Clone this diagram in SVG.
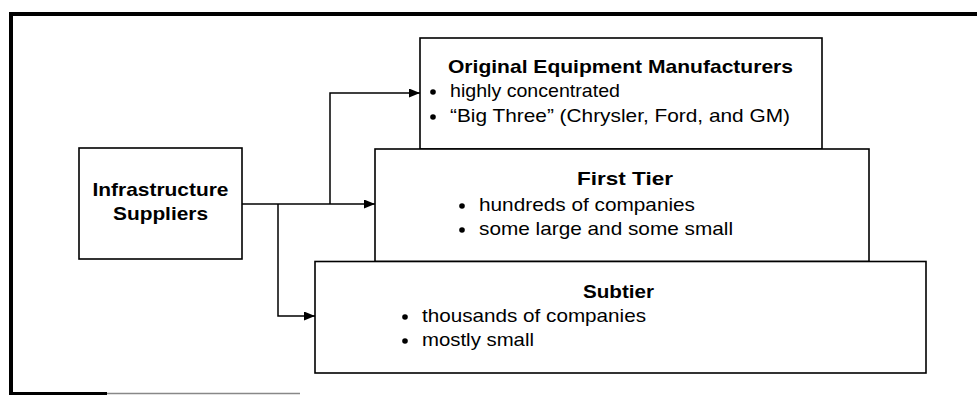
<svg xmlns="http://www.w3.org/2000/svg" width="977" height="396" viewBox="0 0 977 396">
<style>
.box{fill:#fff;stroke:#000;stroke-width:1.6}
.t{font-family:"Liberation Sans",Arial,sans-serif;font-size:19px;fill:#000}
.b{font-weight:bold}
.c{text-anchor:middle}
.conn{fill:none;stroke:#000;stroke-width:1.5}
.dot{fill:#000}
</style>
<defs>
<marker id="arr" markerUnits="userSpaceOnUse" markerWidth="11" markerHeight="9" refX="11" refY="4.5" orient="auto">
<path d="M0,0 L11,4.5 L0,9 z" fill="#000"/>
</marker>
</defs>
<g id="frame">
<line x1="9" y1="14" x2="977" y2="14" stroke="#000" stroke-width="4"/>
<line x1="11" y1="12" x2="11" y2="395" stroke="#000" stroke-width="4"/>
<line x1="9" y1="393.5" x2="107" y2="393.5" stroke="#000" stroke-width="3"/>
<line x1="107" y1="393.5" x2="300" y2="393.5" stroke="#888" stroke-width="1.5"/>
</g>
<g id="connectors">
<path class="conn" d="M242,204 H375" marker-end="url(#arr)"/>
<path class="conn" d="M330,204 V93 H420" marker-end="url(#arr)"/>
<path class="conn" d="M278,204 V316 H315" marker-end="url(#arr)"/>
</g>
<g id="infra">
<rect class="box" x="79" y="148" width="163" height="111"/>
<text class="t b c" x="160.5" y="196" textLength="136" lengthAdjust="spacingAndGlyphs">Infrastructure</text>
<text class="t b c" x="160.5" y="220" textLength="95" lengthAdjust="spacingAndGlyphs">Suppliers</text>
</g>
<g id="oem">
<rect class="box" x="420" y="38" width="402" height="111"/>
<text class="t b c" x="620.5" y="73" textLength="345" lengthAdjust="spacingAndGlyphs">Original Equipment Manufacturers</text>
<circle class="dot" cx="433" cy="92" r="2.8"/>
<text class="t" x="450" y="97" textLength="170" lengthAdjust="spacingAndGlyphs">highly concentrated</text>
<circle class="dot" cx="433" cy="117" r="2.8"/>
<text class="t" x="450" y="122" textLength="340" lengthAdjust="spacingAndGlyphs">“Big Three” (Chrysler, Ford, and GM)</text>
</g>
<g id="firsttier">
<rect class="box" x="375" y="149" width="494" height="112.5"/>
<text class="t b c" x="625" y="185" textLength="96" lengthAdjust="spacingAndGlyphs">First Tier</text>
<circle class="dot" cx="462" cy="206" r="2.8"/>
<text class="t" x="479" y="211" textLength="216" lengthAdjust="spacingAndGlyphs">hundreds of companies</text>
<circle class="dot" cx="462" cy="230" r="2.8"/>
<text class="t" x="479" y="235" textLength="254" lengthAdjust="spacingAndGlyphs">some large and some small</text>
</g>
<g id="subtier">
<rect class="box" x="315" y="261.5" width="611" height="111.5"/>
<text class="t b c" x="618.5" y="298" textLength="71" lengthAdjust="spacingAndGlyphs">Subtier</text>
<circle class="dot" cx="405" cy="317" r="2.8"/>
<text class="t" x="422" y="322" textLength="224" lengthAdjust="spacingAndGlyphs">thousands of companies</text>
<circle class="dot" cx="405" cy="341" r="2.8"/>
<text class="t" x="422" y="346" textLength="112" lengthAdjust="spacingAndGlyphs">mostly small</text>
</g>
</svg>
